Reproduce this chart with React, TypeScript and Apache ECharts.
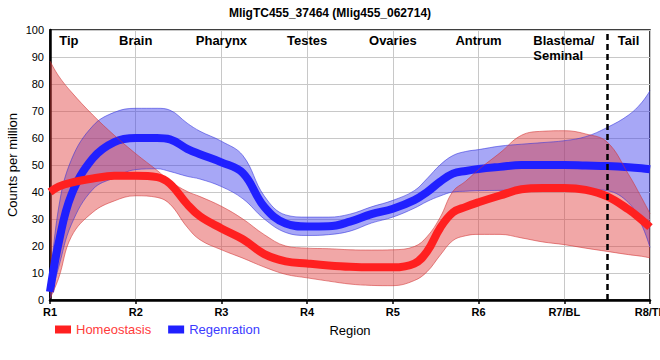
import React, { useEffect, useRef } from "react";
import * as echarts from "echarts";

const TITLE = "MligTC455_37464 (Mlig455_062714)";
const xTickLabels = ["R1", "R2", "R3", "R4", "R5", "R6", "R7/BL", "R8/TL"];
const regionLabels = ["Tip", "Brain", "Pharynx", "Testes", "Ovaries", "Antrum", "Blastema/\nSeminal", "Tail"];

const xs = [1, 1.1, 1.25, 1.5, 1.75, 2, 2.25, 2.4, 2.6, 2.75, 3, 3.25, 3.5, 3.75, 4, 4.25, 4.5, 4.75, 5, 5.25, 5.4, 5.55, 5.7, 5.85, 6, 6.25, 6.5, 6.75, 7, 7.25, 7.5, 7.75, 7.9, 8];

const homMean = [40, 42, 43.5, 45, 46, 46, 45.5, 43, 35.5, 31, 26.5, 22.5, 17, 14.3, 13.5, 12.8, 12.3, 12.1, 12.1, 13.5, 18, 26.6, 32.4, 34.5, 36.2, 38.7, 41, 41.5, 41.5, 40.8, 38.4, 33.5, 29.8, 27];
const homUpper = [88.5, 83, 77, 68.5, 61, 54.2, 48, 44, 40.2, 38.3, 34.7, 30, 24.2, 20, 19.2, 19, 18.6, 18.5, 18.6, 19.8, 23.5, 30.5, 40.2, 44, 48.3, 54.5, 61, 62.5, 62.7, 61.5, 58.5, 46.5, 38, 32];
const homLower = [0.5, 8, 23.5, 32.5, 36.7, 38.6, 38, 35.5, 27, 22.3, 18.6, 15.5, 12.2, 9.5, 8.2, 7, 5.9, 5.4, 5.3, 7.2, 10.5, 16.5, 22, 23.8, 24.3, 24.3, 23, 21.5, 20.5, 19.2, 18, 16.8, 16.2, 15.6];

const regMean = [3, 21, 39, 52.5, 58.5, 60, 60, 59.5, 56, 54, 51, 47, 34.5, 28.3, 27.2, 27.3, 29, 31.8, 33.8, 37, 40, 43.8, 46.8, 47.8, 48.5, 49.3, 50, 50, 50, 49.8, 49.6, 49.2, 48.8, 48.4];
const regUpper = [5, 34, 52, 64.5, 69.5, 71, 71, 70.3, 65.5, 62.5, 58.8, 53.5, 38.5, 31.5, 30.7, 30.7, 31.8, 34.5, 36.9, 40.5, 45, 50, 53.5, 55, 55.7, 57, 57.7, 58.3, 59, 60.5, 63.9, 68.5, 73, 77.5];
const regLower = [0.5, 12, 28, 41, 45.3, 48.3, 48.6, 47.6, 45.8, 44.8, 42, 37.5, 30, 25, 23.9, 24.2, 25.5, 28.5, 30.7, 34, 36.5, 38.5, 40, 40.3, 40.5, 40.6, 40.8, 41, 41, 41, 40.5, 36, 28, 19.5];

const pairs = (ys: number[]) => xs.map((x, i) => [x, ys[i]]);
// y first so that stacking acts on the y values
const yFirst = (ys: number[]) => xs.map((x, i) => [ys[i], x]);
const diffs = (up: number[], lo: number[]) => xs.map((x, i) => [up[i] - lo[i], x]);

const FONT = "Liberation Sans, Arial, sans-serif";

export default function App() {
  const ref = useRef<HTMLDivElement>(null);
  useEffect(() => {
    if (!ref.current) return;
    const chart = echarts.init(ref.current, null, { renderer: "svg" });
    const redBand = "rgba(225,60,60,0.45)";
    const redEdge = "rgba(210,50,50,0.55)";
    const blueBand = "rgba(60,60,235,0.45)";
    const blueEdge = "rgba(50,50,220,0.55)";
    const bandBase = (name: string, stack: string, data: any[], edge: string) => ({
      name,
      type: "line",
      stack,
      data,
      dimensions: [
        { name: "val", type: "float" },
        { name: "pos", type: "float" },
      ],
      encode: { x: "pos", y: "val" },
      smooth: 0.4,
      symbol: "none",
      lineStyle: { width: 1, color: edge },
      itemStyle: { color: edge },
      silent: true,
    });
    const regionX = [1.22, 2, 3, 4, 5, 6, 7, 7.75];
    const gridLeft = 50, gridRight = 650;
    const toPx = (v: number) => gridLeft + ((v - 1) / 7) * (gridRight - gridLeft);
    chart.setOption({
      animation: false,
      textStyle: { fontFamily: FONT },
      title: {
        text: TITLE,
        left: "center",
        top: 2,
        textStyle: { fontSize: 12, fontWeight: "bold", color: "#000", fontFamily: FONT },
      },
      grid: {
        left: 50,
        right: 10,
        top: 30,
        bottom: 60,
        containLabel: false,
        outerBoundsMode: "none",
        show: true,
        borderColor: "#000",
        borderWidth: 1.5,
        backgroundColor: "transparent",
      },
      legend: {
        left: 55,
        top: 323,
        padding: 0,
        icon: "rect",
        itemWidth: 16,
        itemHeight: 8,
        itemGap: 17,
        data: [
          { name: "Homeostasis", textStyle: { color: "#ff3b3b" } },
          { name: "Regenration", textStyle: { color: "#3b3bff" } },
        ],
        textStyle: { fontSize: 13, fontFamily: FONT },
      },
      xAxis: {
        type: "value",
        min: 1,
        max: 8,
        interval: 1,
        name: "Region",
        nameLocation: "middle",
        nameGap: 24,
        nameMoveOverlap: false,
        nameTextStyle: { fontSize: 13, color: "#000", fontFamily: FONT },
        axisLine: { show: true, lineStyle: { color: "#000", width: 2.5 } },
        axisTick: { show: true, length: 4, lineStyle: { color: "#000", width: 1.5 } },
        axisLabel: {
          formatter: (v: number) => xTickLabels[Math.round(v) - 1] ?? "",
          fontSize: 11,
          fontWeight: "bold",
          color: "#000",
          margin: 6,
          showMaxLabel: true,
          showMinLabel: true,
          hideOverlap: false,
          fontFamily: FONT,
        },
        splitLine: { show: true, lineStyle: { color: "#c8c8c8", width: 1 } },
      },
      yAxis: {
        type: "value",
        min: 0,
        max: 100,
        interval: 10,
        name: "Counts per million",
        nameLocation: "middle",
        nameGap: 31,
        nameMoveOverlap: false,
        nameTextStyle: { fontSize: 13, color: "#000", fontFamily: FONT },
        axisLine: { show: true, lineStyle: { color: "#000", width: 2.5 } },
        axisTick: { show: false },
        axisLabel: { fontSize: 11, color: "#000", margin: 6, fontFamily: FONT },
        splitLine: { show: true, lineStyle: { color: "#c8c8c8", width: 1 } },
      },
      series: [
        bandBase("regLow", "reg", yFirst(regLower), blueEdge),
        { ...bandBase("regBand", "reg", diffs(regUpper, regLower), blueEdge), areaStyle: { color: blueBand, opacity: 1 } },
        {
          name: "Regenration",
          type: "line",
          data: pairs(regMean),
          smooth: 0.4,
          symbol: "none",
          lineStyle: { width: 8, color: "#2020ff" },
          itemStyle: { color: "#2020ff" },
        },
        bandBase("homLow", "hom", yFirst(homLower), redEdge),
        { ...bandBase("homBand", "hom", diffs(homUpper, homLower), redEdge), areaStyle: { color: redBand, opacity: 1 } },
        {
          name: "Homeostasis",
          type: "line",
          data: pairs(homMean),
          smooth: 0.4,
          symbol: "none",
          lineStyle: { width: 8, color: "#ff2020" },
          itemStyle: { color: "#ff2020" },
          markLine: {
            silent: true,
            symbol: "none",
            label: { show: false },
            lineStyle: { color: "#000", type: [6, 4], width: 2.5 },
            data: [{ xAxis: 7.5 }],
          },
        },
      ],
      graphic: regionLabels.map((t, i) => {
        const multi = t.includes("\n");
        return {
          type: "text",
          x: multi ? toPx(regionX[i]) - 31 : toPx(regionX[i]),
          y: 33,
          z: 100,
          style: {
            text: t,
            fill: "#000",
            font: "bold 13px " + FONT,
            textAlign: multi ? "left" : "center",
            textVerticalAlign: "top",
            lineHeight: 15,
          },
        };
      }),
    });
    return () => chart.dispose();
  }, []);
  return <div ref={ref} style={{ width: 660, height: 360, position: "absolute", left: 0, top: 0 }} />;
}
